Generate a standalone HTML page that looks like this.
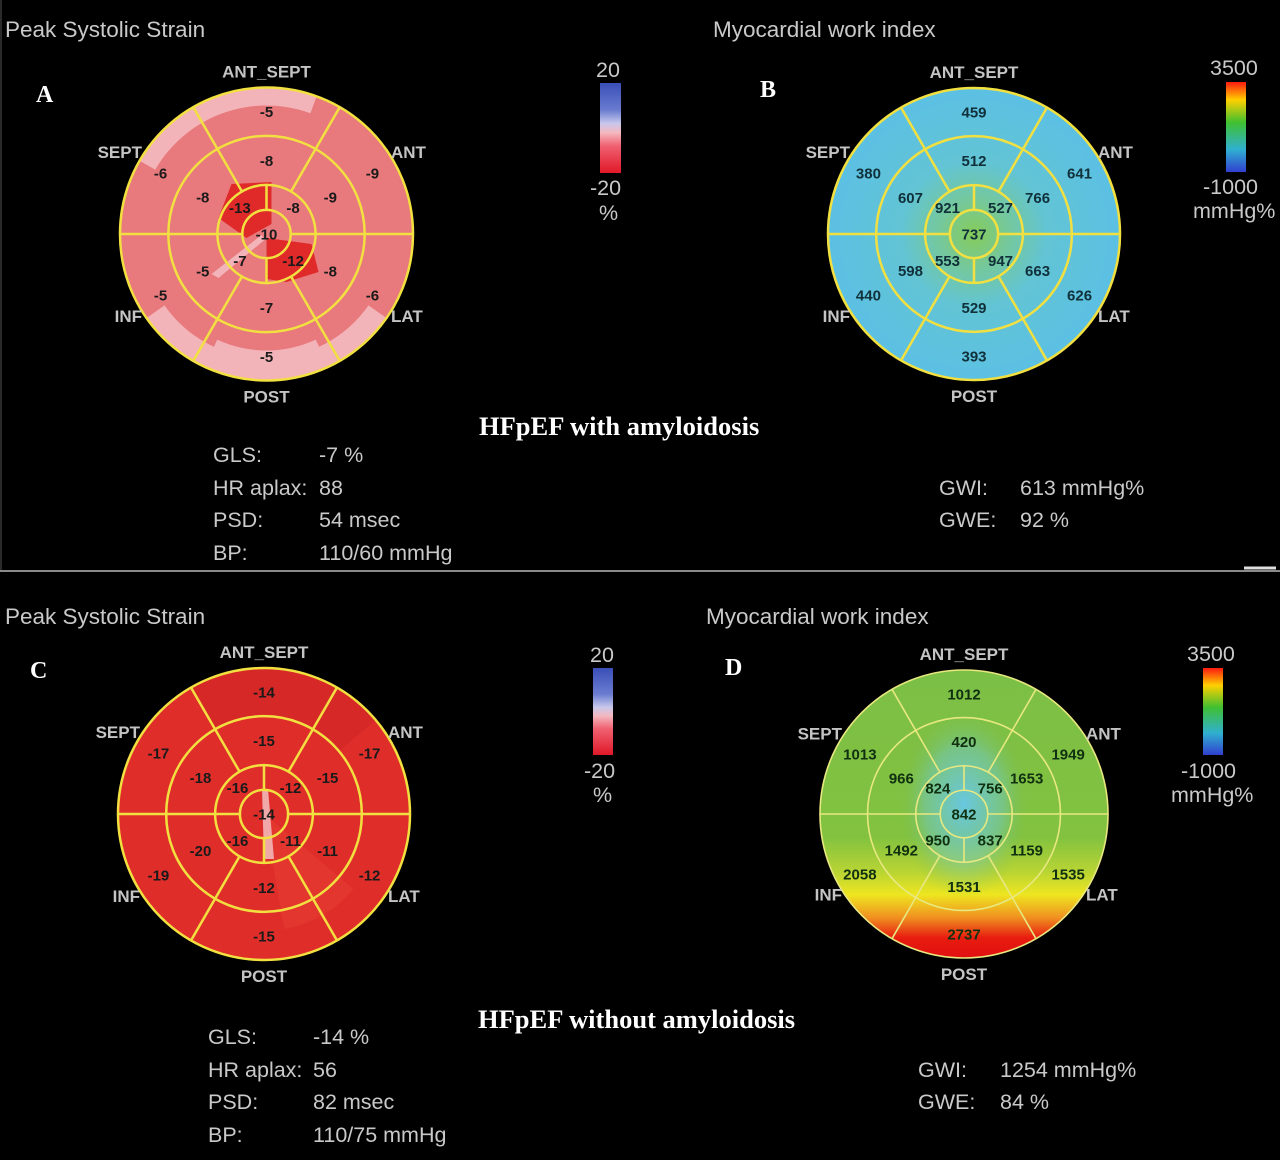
<!DOCTYPE html>
<html><head><meta charset="utf-8">
<style>
html,body{margin:0;padding:0;background:#000;}
#root{position:relative;width:1280px;height:1160px;background:#000;overflow:hidden;font-family:"Liberation Sans",sans-serif;}
.t{position:absolute;color:#c9c9c9;font-size:21.5px;white-space:nowrap;}
.ti{font-size:22.5px;}
.h{position:absolute;color:#fff;font-family:"Liberation Serif",serif;font-weight:bold;white-space:nowrap;}
svg{position:absolute;left:0;top:0;}
</style></head><body>
<div id="root">
<svg id="svg" width="1280" height="1160">
<defs>
<radialGradient id="gB" cx="0.5" cy="0.5" r="0.5">
<stop offset="0" stop-color="#86cc58"/><stop offset="0.22" stop-color="#76c898"/><stop offset="0.5" stop-color="#62c4d4"/><stop offset="1" stop-color="#5cc0e4"/></radialGradient>
<linearGradient id="gD" x1="0" y1="0" x2="0" y2="1">
<stop offset="0" stop-color="#7cbf46"/><stop offset="0.58" stop-color="#82c240"/><stop offset="0.7" stop-color="#b8d434"/><stop offset="0.78" stop-color="#eee620"/><stop offset="0.86" stop-color="#f09020"/><stop offset="0.93" stop-color="#e81c10"/><stop offset="1" stop-color="#e01010"/></linearGradient>
<radialGradient id="gDc" cx="0.5" cy="0.5" r="0.5">
<stop offset="0" stop-color="#66c8e8" stop-opacity="0.95"/><stop offset="0.6" stop-color="#70c8c8" stop-opacity="0.5"/><stop offset="1" stop-color="#7cbf46" stop-opacity="0"/></radialGradient>
<linearGradient id="cbS" x1="0" y1="0" x2="0" y2="1">
<stop offset="0" stop-color="#3a4fb8"/><stop offset="0.3" stop-color="#6a7cd0"/><stop offset="0.45" stop-color="#c8c8ec"/><stop offset="0.55" stop-color="#f4b8c0"/><stop offset="0.7" stop-color="#f06070"/><stop offset="1" stop-color="#e01828"/></linearGradient>
<linearGradient id="cbW" x1="0" y1="0" x2="0" y2="1">
<stop offset="0" stop-color="#ff1a10"/><stop offset="0.2" stop-color="#ffd000"/><stop offset="0.45" stop-color="#40c030"/><stop offset="0.75" stop-color="#30b0d0"/><stop offset="1" stop-color="#3040d0"/></linearGradient>
</defs>
<line x1="0" y1="571" x2="1280" y2="571" stroke="#8a8a8a" stroke-width="2"/>
<line x1="1244" y1="568" x2="1276" y2="568" stroke="#ddd" stroke-width="3"/>
<line x1="1" y1="0" x2="1" y2="570" stroke="#555" stroke-width="1"/>
</svg>

<div class="t ti" style="left:5px;top:17px">Peak Systolic Strain</div>
<div class="t ti" style="left:713px;top:17px">Myocardial work index</div>
<div class="t ti" style="left:5px;top:604px">Peak Systolic Strain</div>
<div class="t ti" style="left:706px;top:604px">Myocardial work index</div>

<div class="h" style="left:36px;top:82px;font-size:24px">A</div>
<div class="h" style="left:760px;top:77px;font-size:24px">B</div>
<div class="h" style="left:30px;top:658px;font-size:24px">C</div>
<div class="h" style="left:725px;top:655px;font-size:24px">D</div>

<div class="h" style="left:479px;top:411px;font-size:26.5px">HFpEF with amyloidosis</div>
<div class="h" style="left:478px;top:1004px;font-size:26.5px">HFpEF without amyloidosis</div>

<div>
<div class="t" style="left:213px;top:443px">GLS:</div><div class="t" style="left:319px;top:443px">-7 %</div>
<div class="t" style="left:213px;top:476px">HR aplax:</div><div class="t" style="left:319px;top:476px">88</div>
<div class="t" style="left:213px;top:508px">PSD:</div><div class="t" style="left:319px;top:508px">54 msec</div>
<div class="t" style="left:213px;top:541px">BP:</div><div class="t" style="left:319px;top:541px">110/60 mmHg</div>
</div>
<div>
<div class="t" style="left:939px;top:476px">GWI:</div><div class="t" style="left:1020px;top:476px">613 mmHg%</div>
<div class="t" style="left:939px;top:508px">GWE:</div><div class="t" style="left:1020px;top:508px">92 %</div>
</div>
<div>
<div class="t" style="left:208px;top:1025px">GLS:</div><div class="t" style="left:313px;top:1025px">-14 %</div>
<div class="t" style="left:208px;top:1058px">HR aplax:</div><div class="t" style="left:313px;top:1058px">56</div>
<div class="t" style="left:208px;top:1090px">PSD:</div><div class="t" style="left:313px;top:1090px">82 msec</div>
<div class="t" style="left:208px;top:1123px">BP:</div><div class="t" style="left:313px;top:1123px">110/75 mmHg</div>
</div>
<div>
<div class="t" style="left:918px;top:1058px">GWI:</div><div class="t" style="left:1000px;top:1058px">1254 mmHg%</div>
<div class="t" style="left:918px;top:1090px">GWE:</div><div class="t" style="left:1000px;top:1090px">84 %</div>
</div>

<div>
<div class="t" style="left:596px;top:58px">20</div><div class="t" style="left:590px;top:176px">-20</div><div class="t" style="left:599px;top:201px">%</div></div>
<div>
<div class="t" style="left:1210px;top:56px">3500</div><div class="t" style="left:1203px;top:175px">-1000</div><div class="t" style="left:1193px;top:199px">mmHg%</div></div>
<div>
<div class="t" style="left:590px;top:643px">20</div><div class="t" style="left:584px;top:759px">-20</div><div class="t" style="left:593px;top:783px">%</div></div>
<div>
<div class="t" style="left:1187px;top:642px">3500</div><div class="t" style="left:1181px;top:759px">-1000</div><div class="t" style="left:1171px;top:783px">mmHg%</div></div>
</div>

<script>
// Segment values: basal [antsept, ant, lat, post, inf, sept], mid same, apical [UL, UR, LR, LL], apex
const basalA=[-5,-9,-6,-5,-5,-6];
const midA=[-8,-9,-8,-7,-5,-8];
const apicalA=[-13,-8,-12,-7];
const apexA=[-10];
const basalB=[459,641,626,393,440,380];
const midB=[512,766,663,529,598,607];
const apicalB=[921,527,947,553];
const apexB=[737];
const basalC=[-14,-17,-12,-15,-19,-17];
const midC=[-15,-15,-11,-12,-20,-18];
const apicalC=[-16,-12,-11,-16];
const apexC=[-14];
const basalD=[1012,1949,1535,2737,2058,1013];
const midD=[420,1653,1159,1531,1492,966];
const apicalD=[824,756,837,950];
const apexD=[842];
const dirLabels=["ANT_SEPT","ANT","LAT","POST","INF","SEPT"];

const NS="http://www.w3.org/2000/svg";
const svg=document.getElementById('svg');
function mk(tag,attrs,parent){const e=document.createElementNS(NS,tag);for(const k in attrs)e.setAttribute(k,attrs[k]);(parent||svg).appendChild(e);return e;}
function pol(cx,cy,r,deg){const a=deg*Math.PI/180;return [cx+r*Math.cos(a),cy-r*Math.sin(a)];}
function annSector(cx,cy,r0,r1,a0,a1){
  const p1=pol(cx,cy,r1,a0),p2=pol(cx,cy,r1,a1),p3=pol(cx,cy,r0,a1),p4=pol(cx,cy,r0,a0);
  const lg=(a1-a0)>180?1:0;
  return `M${p1[0]},${p1[1]} A${r1},${r1} 0 ${lg} 0 ${p2[0]},${p2[1]} L${p3[0]},${p3[1]} A${r0},${r0} 0 ${lg} 1 ${p4[0]},${p4[1]}Z`;
}
function bullseye(id,cx,cy,R,basal,mid,apical,apex,fill,extras,lineCol,lw,txtCol){
  const g=mk('g',{});
  
  
  const cp=mk('clipPath',{id:'clip'+id},g);
  mk('circle',{cx:cx,cy:cy,r:R},cp);
  const bg=mk('g',{'clip-path':'url(#clip'+id+')'},g);
  const base=mk('circle',{cx:cx,cy:cy,r:R,fill:fill},bg);
  
  
  extras(bg,cx,cy,R);
  const r1=R*0.67,r2=R*0.335,r3=R*0.165;
  [R,r1,r2,r3].forEach(r=>mk('circle',{cx:cx,cy:cy,r:r,fill:'none',stroke:lineCol,'stroke-width':lw},g));
  [0,60,120,180,240,300].forEach(a=>{const p=pol(cx,cy,r2,a),q=pol(cx,cy,R,a);mk('line',{x1:p[0],y1:p[1],x2:q[0],y2:q[1],stroke:lineCol,'stroke-width':lw},g);});
  [0,90,180,270].forEach(a=>{const p=pol(cx,cy,r3,a),q=pol(cx,cy,r2,a);mk('line',{x1:p[0],y1:p[1],x2:q[0],y2:q[1],stroke:lineCol,'stroke-width':lw},g);});
  const segA=[90,30,-30,-90,-150,150];
  function lab(x,y,v,nm){const t=mk('text',{x:x,y:y+5.5,'text-anchor':'middle','font-family':'Liberation Sans, sans-serif','font-weight':'bold','font-size':'15',fill:txtCol},g);t.textContent=v;
    
    }
  basal.forEach((v,i)=>{const p=pol(cx,cy,(R+r1)/2,segA[i]);lab(p[0],p[1],v,'basal-value-'+i);});
  mid.forEach((v,i)=>{const p=pol(cx,cy,(r1+r2)/2,segA[i]);lab(p[0],p[1],v,'mid-value-'+i);});
  const apA=[135,45,-45,-135];
  apical.forEach((v,i)=>{const p=pol(cx,cy,(r2+r3)/2+1,apA[i]);lab(p[0],p[1],v,'apical-value-'+i);});
  lab(cx,cy,apex[0],'apex-value');
  const pos=[[0,-R-16,'middle'],[R-22,-R*0.56,'start'],[R-22,R*0.56,'start'],[0,R+16,'middle'],[-R+22,R*0.56,'end'],[-R+22,-R*0.56,'end']];
  dirLabels.forEach((d,i)=>{const t=mk('text',{x:cx+pos[i][0],y:cy+pos[i][1]+6,'text-anchor':pos[i][2],'font-family':'Liberation Sans, sans-serif','font-weight':'bold','font-size':'17',fill:'#c4c4c4'},g);t.textContent=d;
    
    });
}
// A
bullseye('a',266.5,234,146.5,basalA,midA,apicalA,apexA,'#e8797d',(bg,cx,cy,R)=>{
  mk('path',{d:annSector(cx,cy,R-22,R+2,215,325),fill:'#f2b4b8'},bg);
  mk('path',{d:annSector(cx,cy,R-30,R+2,245,295),fill:'#f2b4b8'},bg);
  mk('path',{d:annSector(cx,cy,R-18,R+2,70,150),fill:'#f2b4b8'},bg);
  mk('path',{d:`M${cx-48},${cy-16} L${cx-35},${cy-50} L${cx+5},${cy-52} L${cx+5},${cy-10} L${cx-20},${cy+4}Z`,fill:'#e02a2a'},bg);
  mk('path',{d:`M${cx},${cy+4} L${cx+45},${cy+10} L${cx+52},${cy+38} L${cx+20},${cy+48} L${cx},${cy+45}Z`,fill:'#e02a2a'},bg);
  mk('path',{d:`M${cx-5},${cy+1} L${cx-55},${cy+40} L${cx-48},${cy+44} L${cx-2},${cy+6}Z`,fill:'#f2b4b8'},bg);
},'#f2e040',2.5,'#1a1a1a');
// B
bullseye('b',974,234,146,basalB,midB,apicalB,apexB,'url(#gB)',()=>{},'#f2e040',2.5,'#10303a');
// C
bullseye('c',264,814,146,basalC,midC,apicalC,apexC,'#df2e2a',(bg,cx,cy,R)=>{
  mk('path',{d:annSector(cx,cy,R*0.67,R+2,40,120),fill:'#d62826'},bg);
  mk('path',{d:annSector(cx,cy,0,R*0.8,-80,-40),fill:'#e2362e'},bg);
  mk('path',{d:`M${cx-2},${cy-25} L${cx+4},${cy-25} L${cx+10},${cy+45} L${cx},${cy+45}Z`,fill:'#f0a8a8'},bg);
},'#f2e040',2.5,'#1a1a1a');
// D
bullseye('d',964,814,144,basalD,midD,apicalD,apexD,'url(#gD)',(bg,cx,cy,R)=>{
  mk('ellipse',{cx:cx,cy:cy-10,rx:65,ry:95,fill:'url(#gDc)'},bg);
},'#e8e880',1.6,'#103010');
function cbar(nm,x,y,w,h,grad){const r=mk('rect',{x:x,y:y,width:w,height:h,fill:grad});
  
  }
cbar('colorbar-a',600,83,21,90,'url(#cbS)');
cbar('colorbar-b',1226,82,20,90,'url(#cbW)');
cbar('colorbar-c',593,668,20,87,'url(#cbS)');
cbar('colorbar-d',1203,668,20,87,'url(#cbW)');
</script>
</body></html>
